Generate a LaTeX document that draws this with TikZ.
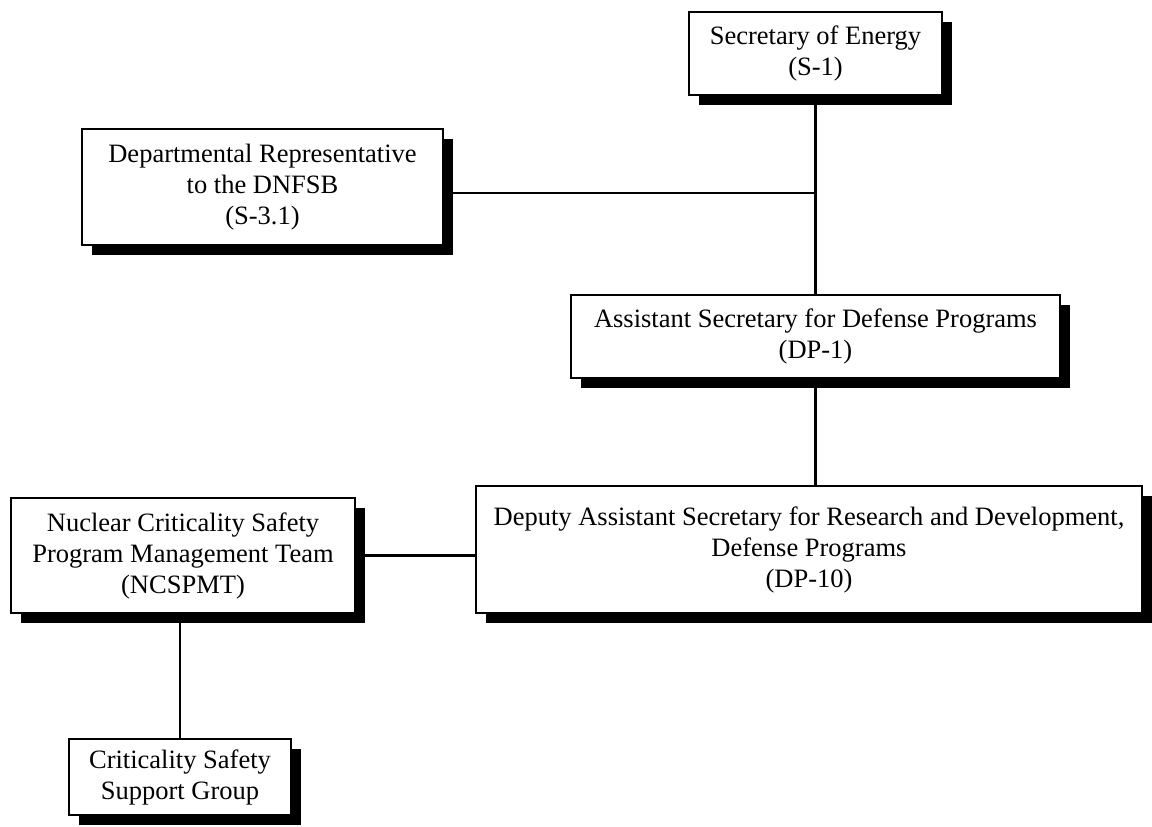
\documentclass[tikz,border=0pt]{standalone}
\usepackage{fontspec}
\setmainfont{Liberation Serif}
\usetikzlibrary{shadows}
\begin{document}
\begin{tikzpicture}[x=1pt,y=-1pt,
  box/.style={draw=black, line width=1.6pt, fill=white, align=center, inner sep=0pt,
    font=\fontsize{26.5}{31}\selectfont,
    general shadow={fill=black, shadow xshift=10pt, shadow yshift=-10pt}},
  link/.style={line width=2.2pt}]
\useasboundingbox (0,0) rectangle (1152,827);
\node[box, minimum width=253pt, minimum height=83pt] (sec) at (815.5,53.5) {Secretary of Energy\\(S-1)};
\node[box, minimum width=361pt, minimum height=116pt] (rep) at (262.5,187) {Departmental Representative\\to the DNFSB\\(S-3.1)};
\node[box, minimum width=489pt, minimum height=83pt] (asst) at (815.5,336.5) {Assistant Secretary for Defense Programs\\(DP-1)};
\node[box, minimum width=666pt, minimum height=127pt] (dep) at (809,549.5) {Deputy Assistant Secretary for Research and Development,\\Defense Programs\\(DP-10)};
\node[box, minimum width=344pt, minimum height=115pt] (ncs) at (183,555.5) {Nuclear Criticality Safety\\Program Management Team\\(NCSPMT)};
\node[box, minimum width=222pt, minimum height=76pt] (crit) at (180,777) {Criticality Safety\\Support Group};
\draw[link] (sec.south) -- (asst.north);
\draw[link] ([yshift=-6pt]rep.east) -- ([yshift=-6pt]rep.east -| sec.south);
\draw[link] (asst.south) -- (asst.south |- dep.north);
\draw[link] (ncs.east) -- (ncs.east -| dep.west);
\draw[link] (ncs.south -| crit.north) -- (crit.north);
\end{tikzpicture}
\end{document}
